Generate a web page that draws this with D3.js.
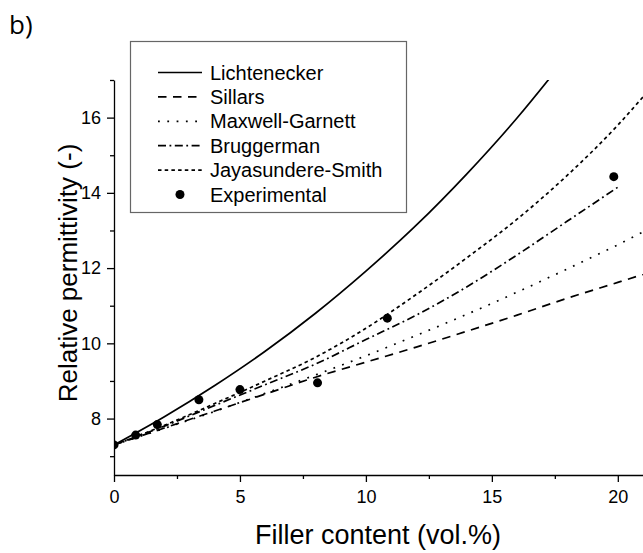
<!DOCTYPE html>
<html>
<head>
<meta charset="utf-8">
<script src="https://cdn.jsdelivr.net/npm/d3@7/dist/d3.min.js"></script>
<style>
  body { margin: 0; background: #fff; }
  text { font-family: "Liberation Sans", Arial, sans-serif; fill: #000; }
</style>
</head>
<body>
<div id="chart-area"></div>
<script>

var modelX = [0, 2, 4, 6, 8, 10, 12, 14, 16, 18, 20, 21];

var lichtenecker = [7.3, 8.05, 8.88, 9.79, 10.8, 11.92, 13.14, 14.5, 15.99, 17.64, null, null];
var sillars      = [7.3, 7.75, 8.2, 8.65, 9.1, 9.5, 9.9, 10.32, 10.75, 11.2, 11.62, 11.83];
var maxwell      = [7.3, 7.74, 8.19, 8.67, 9.16, 9.67, 10.21, 10.77, 11.36, 11.98, 12.62, 12.96];
var bruggerman   = [7.3, 7.8, 8.35, 8.9, 9.45, 10.1, 10.75, 11.5, 12.35, 13.25, 14.15, null];
var jayasundere  = [7.3, 7.82, 8.4, 9.0, 9.63, 10.4, 11.3, 12.27, 13.3, 14.47, 15.8, 16.55];

// experimental points
var expX = [0, 0.86, 1.72, 3.37, 5.0, 8.08, 10.85, 19.84];
var expY = [7.3, 7.56, 7.84, 8.5, 8.77, 8.95, 10.67, 14.43];

var seriesNames = ["Lichtenecker", "Sillars", "Maxwell-Garnett", "Bruggerman", "Jayasundere-Smith"];

var xMajor = [0, 5, 10, 15, 20];
var xMinor = [2.5, 7.5, 12.5, 17.5];
var yMajor = [8, 10, 12, 14, 16];
var yMinor = [7, 9, 11, 13, 15, 17];

var margin = { left: 114, right: 0, top: 80, bottom: 78 };
var W = 643, H = 553;
var width = W - margin.left - margin.right,
    height = H - margin.top - margin.bottom;

var svg = d3.select("#chart-area")
    .append("svg")
        .attr("width", W)
        .attr("height", H);

var g = svg.append("g")
    .attr("transform", "translate(" + margin.left + ", " + margin.top + ")");

// X Scale
var x = d3.scaleLinear()
    .domain([0, 21])
    .range([0, width]);

// Y Scale
var y = d3.scaleLinear()
    .domain([6.5, 17])
    .range([height, 0]);

svg.append("clipPath")
    .attr("id", "plot-clip")
    .append("rect")
        .attr("x", 0)
        .attr("y", 0)
        .attr("width", width + 2)
        .attr("height", height);

// dash patterns per model
var dashes = {
    "Lichtenecker": null,
    "Sillars": "8.5,6.5",
    "Maxwell-Garnett": "1.8,7.5",
    "Bruggerman": "8,3.5,1.8,3.5",
    "Jayasundere-Smith": "3.5,3.2"
};

var allSeries = [lichtenecker, sillars, maxwell, bruggerman, jayasundere];

var line = d3.line()
    .defined(function(d){ return d[1] !== null; })
    .x(function(d){ return x(d[0]); })
    .y(function(d){ return y(d[1]); })
    .curve(d3.curveMonotoneX);

var curves = g.append("g").attr("clip-path", "url(#plot-clip)");

seriesNames.forEach(function(name, i) {
    var pts = modelX.map(function(v, j){ return [v, allSeries[i][j]]; });
    curves.append("path")
        .datum(pts)
        .attr("fill", "none")
        .attr("stroke", "#000")
        .attr("stroke-width", 1.7)
        .attr("stroke-dasharray", dashes[name])
        .attr("d", line);
});

// experimental points
curves.selectAll("circle")
    .data(expX.map(function(v, i){ return [v, expY[i]]; }))
    .enter()
    .append("circle")
        .attr("cx", function(d){ return x(d[0]); })
        .attr("cy", function(d){ return y(d[1]); })
        .attr("r", 4.5)
        .attr("fill", "#000");

// X Axis
var xAxisGroup = g.append("g")
    .attr("transform", "translate(0," + height + ")")
    .call(d3.axisBottom(x).tickValues(xMajor).tickSize(7).tickPadding(8).tickSizeOuter(0));

g.append("g")
    .attr("transform", "translate(0," + height + ")")
    .call(d3.axisBottom(x).tickValues(xMinor).tickSize(4).tickFormat("").tickSizeOuter(0))
    .select(".domain").remove();

// Y Axis
var yAxisGroup = g.append("g")
    .call(d3.axisLeft(y).tickValues(yMajor).tickSize(7).tickPadding(6).tickSizeOuter(0));

g.append("g")
    .call(d3.axisLeft(y).tickValues(yMinor).tickSize(4).tickFormat("").tickSizeOuter(0))
    .select(".domain").remove();

g.selectAll(".domain, .tick line")
    .attr("stroke", "#000")
    .attr("stroke-width", 1.3);

g.selectAll(".tick text")
    .attr("font-size", "18px")
    .attr("font-family", "Liberation Sans, Arial, sans-serif");

// X Label
svg.append("text")
    .attr("x", 378)
    .attr("y", 544)
    .attr("font-size", "27px")
    .attr("text-anchor", "middle")
    .text("Filler content (vol.%)");

// Y Label
svg.append("text")
    .attr("transform", "translate(77," + 273 + ") rotate(-90)")
    .attr("font-size", "26px")
    .attr("text-anchor", "middle")
    .text("Relative permittivity (-)");

// panel letter
svg.append("text")
    .attr("x", 9)
    .attr("y", 34)
    .attr("font-size", "26px")
    .style("font-family", "Open Sans, sans-serif")
    .text("b)");

// Legend
var legend = svg.append("g");

legend.append("rect")
    .attr("x", 130.5)
    .attr("y", 41.5)
    .attr("width", 276)
    .attr("height", 171)
    .attr("fill", "#fff")
    .attr("stroke", "#666")
    .attr("stroke-width", 1.2);

var rowY = d3.scaleLinear().domain([0, 5]).range([72.5, 194.5]);
var legendNames = seriesNames.concat(["Experimental"]);

legendNames.forEach(function(name, i) {
    var cy = rowY(i);
    if (name === "Experimental") {
        legend.append("circle")
            .attr("cx", 180)
            .attr("cy", cy)
            .attr("r", 4.5)
            .attr("fill", "#000");
    } else {
        legend.append("line")
            .attr("x1", 158)
            .attr("x2", 202)
            .attr("y1", cy)
            .attr("y2", cy)
            .attr("stroke", "#000")
            .attr("stroke-width", 1.7)
            .attr("stroke-dasharray", dashes[name]);
    }
    legend.append("text")
        .attr("x", 210)
        .attr("y", cy + 7)
        .attr("font-size", "20px")
        .text(name);
});

</script>
</body>
</html>
